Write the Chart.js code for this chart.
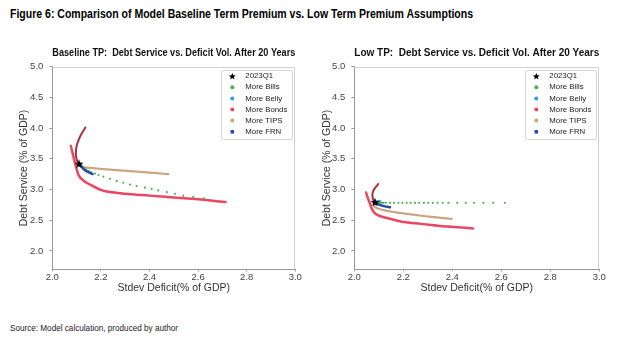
<!DOCTYPE html>
<html><head><meta charset="utf-8">
<script src="https://cdn.jsdelivr.net/npm/chart.js@4.4.1/dist/chart.umd.min.js"></script>
<style>
html,body{margin:0;padding:0;background:#fff;width:624px;height:355px;overflow:hidden;}
.txt{position:absolute;white-space:nowrap;transform-origin:0 0;color:#000;}
#figTitle{left:10px;top:7px;font:bold 12.5px 'Liberation Sans',sans-serif;line-height:14px;}
#source{left:10px;top:323px;font:8.5px 'Liberation Sans',sans-serif;line-height:10px;color:#222;}
canvas{position:absolute;top:38px;}
#c1{left:0px;} #c2{left:312px;}
</style></head>
<body>
<div id="figTitle" class="txt" data-w="463">Figure 6: Comparison of Model Baseline Term Premium vs. Low Term Premium Assumptions</div>
<canvas id="c1" width="312" height="270"></canvas>
<canvas id="c2" width="312" height="270"></canvas>
<div id="source" class="txt" data-w="168">Source: Model calculation, produced by author</div>
<script>
// ---------- tick labels / legend ----------
const xTicks = [2.0, 2.2, 2.4, 2.6, 2.8, 3.0];
const yTicks = [2.0, 2.5, 3.0, 3.5, 4.0, 4.5, 5.0];
const legendLabels = ['2023Q1', 'More Bills', 'More Belly', 'More Bonds', 'More TIPS', 'More FRN'];

// ---------- Baseline TP ----------
const baseStarX = [2.11];
const baseStarY = [3.42];
const baseBillsX = [2.11, 2.12, 2.13, 2.14, 2.15, 2.16, 2.176, 2.19, 2.21, 2.237, 2.265, 2.292, 2.32, 2.347, 2.381, 2.409, 2.436, 2.471, 2.505, 2.539, 2.58, 2.625];
const baseBillsY = [3.41, 3.38, 3.35, 3.32, 3.30, 3.28, 3.26, 3.235, 3.21, 3.174, 3.14, 3.11, 3.08, 3.055, 3.03, 3.006, 2.985, 2.957, 2.93, 2.90, 2.88, 2.855];
const baseBellyX = [2.11, 2.115, 2.12];
const baseBellyY = [3.41, 3.40, 3.385];
const baseBondsX = [2.076, 2.083, 2.092, 2.100, 2.110, 2.130, 2.160, 2.210, 2.300, 2.400, 2.500, 2.600, 2.713];
const baseBondsY = [3.71, 3.60, 3.45, 3.33, 3.22, 3.14, 3.07, 2.98, 2.93, 2.90, 2.87, 2.84, 2.795];
const baseBondsUpX = [2.11, 2.102, 2.097, 2.098, 2.103, 2.114, 2.136];
const baseBondsUpY = [3.41, 3.47, 3.56, 3.66, 3.75, 3.86, 4.01];
const baseTipsX = [2.11, 2.12, 2.135, 2.16, 2.2, 2.25, 2.3, 2.35, 2.4, 2.45, 2.477];
const baseTipsY = [3.41, 3.38, 3.36, 3.35, 3.335, 3.32, 3.305, 3.29, 3.275, 3.26, 3.25];
const baseFrnX = [2.11, 2.12, 2.13, 2.14, 2.15, 2.16, 2.166];
const baseFrnY = [3.41, 3.37, 3.33, 3.30, 3.28, 3.26, 3.25];

// ---------- Low TP ----------
const lowStarX = [2.084];
const lowStarY = [2.795];
const lowBillsX = [2.09, 2.095, 2.10, 2.105, 2.11, 2.115, 2.12, 2.129, 2.146, 2.162, 2.18, 2.196, 2.214, 2.23, 2.248, 2.265, 2.284, 2.302, 2.32, 2.34, 2.361, 2.384, 2.42, 2.455, 2.489, 2.527, 2.567, 2.615];
const lowBillsY = [2.795, 2.79, 2.79, 2.788, 2.786, 2.785, 2.784, 2.783, 2.782, 2.782, 2.782, 2.782, 2.782, 2.782, 2.782, 2.782, 2.782, 2.782, 2.782, 2.782, 2.782, 2.782, 2.782, 2.782, 2.782, 2.782, 2.782, 2.782];
const lowBellyX = [2.084, 2.09, 2.098, 2.105];
const lowBellyY = [2.79, 2.80, 2.81, 2.815];
const lowBondsX = [2.048, 2.056, 2.064, 2.072, 2.085, 2.11, 2.15, 2.2, 2.27, 2.35, 2.42, 2.485];
const lowBondsY = [2.95, 2.85, 2.77, 2.68, 2.61, 2.56, 2.52, 2.47, 2.44, 2.405, 2.385, 2.365];
const lowBondsUpX = [2.084, 2.077, 2.074, 2.076, 2.082, 2.09, 2.098];
const lowBondsUpY = [2.79, 2.84, 2.90, 2.96, 3.01, 3.05, 3.09];
const lowTipsX = [2.084, 2.08, 2.085, 2.10, 2.12, 2.15, 2.2, 2.25, 2.3, 2.35, 2.397];
const lowTipsY = [2.79, 2.74, 2.71, 2.685, 2.665, 2.64, 2.61, 2.585, 2.56, 2.54, 2.52];
const lowFrnX = [2.084, 2.095, 2.11, 2.125, 2.146];
const lowFrnY = [2.79, 2.765, 2.74, 2.725, 2.71];

// ---------- styles ----------
const COL = {star:'#000000', bills:'#4fab4f', belly:'#3399e0', bonds:'#eb4763', bondsUp:'#a8323e', tips:'#cba47f', frn:'#2347a3'};
const NARROW = "'Liberation Sans Narrow','Liberation Sans',sans-serif";
const REG = "'Liberation Sans',sans-serif";

function zip(xs, ys){ return xs.map((x,i)=>({x, y: ys[i]})); }

function starPath(ctx, cx, cy, R){
  const r = R*0.45;
  ctx.beginPath();
  for(let i=0;i<10;i++){
    const a = -Math.PI/2 + i*Math.PI/5;
    const rr = i%2===0 ? R : r;
    const px = cx + rr*Math.cos(a), py = cy + rr*Math.sin(a);
    if(i===0) ctx.moveTo(px,py); else ctx.lineTo(px,py);
  }
  ctx.closePath();
}
const starImg = document.createElement('canvas');
starImg.width = 10; starImg.height = 10;
(()=>{ const c = starImg.getContext('2d'); c.fillStyle='#000'; starPath(c,5,5.4,4.6); c.fill(); })();

const framePlugin = {
  id: 'frameLegend',
  beforeDatasetsDraw(chart){
    const a = chart.chartArea, c = chart.ctx;
    c.save();
    c.strokeStyle = '#d0d0d0'; c.lineWidth = 1;
    c.beginPath();
    c.moveTo(a.left, Math.round(a.top)+0.5);
    c.lineTo(Math.round(a.right)-0.5, Math.round(a.top)+0.5);
    c.lineTo(Math.round(a.right)-0.5, a.bottom);
    c.stroke();
    c.restore();
  },
  afterDatasetsDraw(chart){
    const a = chart.chartArea, c = chart.ctx;
    const w = 71, h = 69, inset = 3;
    const bx = a.right - inset - w, by = a.top + inset;
    c.save();
    c.fillStyle = '#fff';
    c.strokeStyle = '#d6d6d6'; c.lineWidth = 1;
    c.beginPath();
    if (c.roundRect) c.roundRect(Math.round(bx)+0.5, Math.round(by)+0.5, w, h, 2); else c.rect(Math.round(bx)+0.5, Math.round(by)+0.5, w, h);
    c.fill(); c.stroke();
    const items = legendLabels.map(l => chart.data.datasets.find(d => d.label === l)).filter(Boolean);
    c.font = '7.8px ' + REG;
    c.textBaseline = 'middle';
    items.forEach((d, i) => {
      const y = by + 6.5 + i*11.1;
      const mx = bx + 11;
      if (d.label === '2023Q1') {
        c.fillStyle = '#000'; starPath(c, mx, y+0.3, 3.6); c.fill();
      } else {
        c.fillStyle = d.legendColor; c.beginPath(); c.arc(mx, y, 2, 0, Math.PI*2); c.fill();
      }
      c.fillStyle = '#222';
      c.fillText(d.label, bx + 24, y);
    });
    c.restore();
  }
};

function lineDS(label, xs, ys, color, width, order, dash){
  return {label, data: zip(xs, ys), showLine: true, borderColor: color, backgroundColor: color, legendColor: color,
    borderWidth: width, pointRadius: 0, pointHoverRadius: 0, tension: 0.3, order, borderDash: dash || [], borderCapStyle:'round', borderJoinStyle:'round'};
}
function dotDS(label, xs, ys, color, r, order){
  return {label, data: zip(xs, ys), showLine: false, borderColor: color, backgroundColor: color, legendColor: color,
    pointRadius: r, pointBorderWidth: 0, pointHoverRadius: r, order};
}

function makeChart(id, titleText, s, geo){
  const datasets = [
    {label:'2023Q1', data: zip(s.starX, s.starY), showLine:false, pointStyle: starImg, pointRadius: 5, order: 0, legendColor:'#000'},
    lineDS('More FRN', s.frnX, s.frnY, COL.frn, 2.4, 1),
    dotDS('More Bills', s.billsX, s.billsY, COL.bills, 1.05, 2),
    lineDS('More Belly', s.bellyX, s.bellyY, COL.belly, 2, 3),
    lineDS('More TIPS', s.tipsX, s.tipsY, COL.tips, 2.2, 4, [2,1]),
    lineDS('More Bonds', s.bondsX, s.bondsY, COL.bonds, 2.5, 5),
    lineDS('bondsUpper', s.upX, s.upY, COL.bondsUp, 2, 6)
  ];
  return new Chart(document.getElementById(id), {
    type: 'scatter',
    data: { datasets },
    plugins: [framePlugin],
    options: {
      responsive: false, animation: false, events: [],
      layout: { padding: { left: 0, right: geo.padRight, top: 0, bottom: 0 } },
      plugins: {
        legend: { display: false }, tooltip: { enabled: false },
        title: { display: true, text: titleText, fullSize: false, color: '#111',
          font: { family: NARROW, size: 11, weight: 'bold', lineHeight: 1.2 }, padding: { top: 8.2, bottom: 7.3 } }
      },
      scales: {
        x: { type: 'linear', min: 2.0, max: 3.0,
          afterBuildTicks: sc => { sc.ticks = xTicks.map(v => ({value: v})); },
          afterFit: sc => { sc.height = 38.7; },
          ticks: { callback: v => Number(v).toFixed(1), color: '#444', font: { family: NARROW, size: 9.5 }, padding: 0, maxRotation: 0, autoSkip: false },
          grid: { display: true, drawOnChartArea: false, tickLength: 2, color: '#999' },
          border: { display: true, color: '#999', width: 1 },
          title: { display: true, text: 'Stdev Deficit(% of GDP)', color: '#333', font: { family: NARROW, size: 10.5 }, padding: { top: 0, bottom: 13.7 } }
        },
        y: { type: 'linear', min: 1.7, max: 5.0,
          afterBuildTicks: sc => { sc.ticks = yTicks.map(v => ({value: v})); },
          afterFit: sc => { sc.width = geo.yWidth; },
          ticks: { callback: v => Number(v).toFixed(1), color: '#444', font: { family: NARROW, size: 9.5 }, padding: 6, autoSkip: false },
          grid: { display: true, drawOnChartArea: false, tickLength: 3, color: '#999' },
          border: { display: true, color: '#999', width: 1 },
          title: { display: true, text: 'Debt Service (% of GDP)', color: '#333', font: { family: NARROW, size: 10.5 }, padding: { top: geo.yTitlePad, bottom: 0 } }
        }
      }
    }
  });
}

makeChart('c1', 'Baseline TP:  Debt Service vs. Deficit Vol. After 20 Years', {
  starX: baseStarX, starY: baseStarY, billsX: baseBillsX, billsY: baseBillsY, bellyX: baseBellyX, bellyY: baseBellyY,
  bondsX: baseBondsX, bondsY: baseBondsY, upX: baseBondsUpX, upY: baseBondsUpY, tipsX: baseTipsX, tipsY: baseTipsY, frnX: baseFrnX, frnY: baseFrnY
}, { padRight: 16.7, yWidth: 52.3, yTitlePad: 17.7 });

makeChart('c2', 'Low TP:  Debt Service vs. Deficit Vol. After 20 Years', {
  starX: lowStarX, starY: lowStarY, billsX: lowBillsX, billsY: lowBillsY, bellyX: lowBellyX, bellyY: lowBellyY,
  bondsX: lowBondsX, bondsY: lowBondsY, upX: lowBondsUpX, upY: lowBondsUpY, tipsX: lowTipsX, tipsY: lowTipsY, frnX: lowFrnX, frnY: lowFrnY
}, { padRight: 24.7, yWidth: 42.3, yTitlePad: 9.2 });

// fit headline texts to the reference widths
document.querySelectorAll('.txt').forEach(el => {
  const target = +el.dataset.w;
  const w = el.getBoundingClientRect().width;
  if (w > 0) el.style.transform = 'scaleX(' + (target / w) + ')';
});
</script>
</body></html>
